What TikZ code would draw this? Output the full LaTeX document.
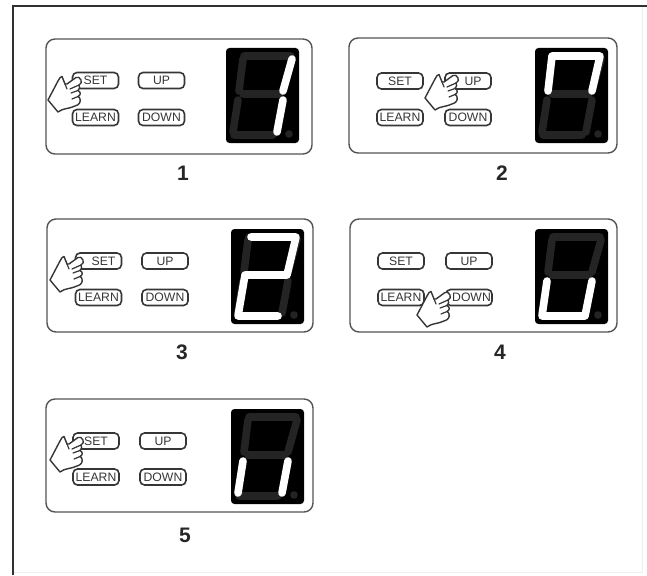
\documentclass[tikz,border=0pt]{standalone}
\usepackage{fontspec}
\setmainfont{Liberation Sans}
\definecolor{ink}{HTML}{363636}
\definecolor{offseg}{HTML}{242424}
\tikzset{
  frameline/.style={draw=ink!90!black,line width=2.8pt},
  paleline/.style={draw=black!7,line width=1pt},
  panelbox/.style={draw=ink!85,line width=1.4pt,rounded corners=9pt,fill=white},
  dispbox/.style={fill=black,rounded corners=3.5pt},
  btn/.style={draw=ink,line width=1.6pt,rounded corners=4.5pt,minimum width=46pt,minimum height=16pt,inner sep=0pt,fill=white,text=ink,font=\fontsize{12.2}{13}\selectfont},
  segoff/.style={draw=offseg,line width=7.6pt,line cap=round},
  segon/.style={draw=white,line width=7.6pt,line cap=round,line join=round},
  numlabel/.style={font=\fontsize{21}{23}\selectfont\bfseries,text=black!85,inner sep=0pt},
  handshape/.style={draw=ink,line width=1.4pt,fill=white,line join=round,line cap=round},
  handline/.style={draw=ink,line width=1.2pt,line cap=round}
}
\def\sega{(18,8)--(65,8)}
\def\segb{(66,11)--(57,43)}
\def\segc{(57,52)--(51,84)}
\def\segd{(47,87)--(8,87)}
\def\sege{(12,52)--(7,84)}
\def\segf{(17,11)--(13,43)}
\def\segg{(17,46)--(54,46)}
\newcommand\pressedtext[2]{\hspace*{#1}#2}
% #1 name, #2 left, #3 top, #4 lit segments (path)
\newcommand\showdigit[4]{%
  \path[dispbox] (#2,#3) rectangle ++(73,95);
  \begin{scope}[shift={(#2,#3)}]
    \draw[segoff] \sega \segb \segc \segd \sege \segf \segg;
    \fill[offseg] (63,86) circle (3.8);
    \draw[segon] #4;
  \end{scope}
}
% #1 name, #2 x col 1, #3 x col 2, #4 y row 1, #5 y row 2, #6 SET, #7 UP, #8 DOWN
\newcommand\showbuttons[8]{%
  \node[btn] (#1set) at (#2,#4) {#6};
  \node[btn] (#1up) at (#3,#4) {#7};
  \node[btn] (#1learn) at (#2,#5) {LEARN};
  \node[btn] (#1down) at (#3,#5) {#8};
}
% #1 tip x, #2 tip y
\newcommand\showhand[2]{%
  \begin{scope}[shift={(#1,#2)}]
    \draw[handshape] (0,0) .. controls (-1,-3) and (-3,-3) .. (-5,-2.5) -- (-14,4)
      -- (-16,4) -- (-19,-3.5) .. controls (-21,-3.5) and (-21,-2) .. (-23,1)
      -- (-33,20) -- (-23,32) .. controls (-18,28) and (-12,29) .. (-6,26)
      .. controls (-2,25) and (0,22) .. (-1,19) .. controls (-1,18) and (-2,17) .. (-3,16.5)
      .. controls (0,15) and (0,12) .. (-3,10.5) .. controls (-1,9) and (-1,7) .. (-2,5)
      .. controls (0,4) and (1,2) .. (0,0) -- cycle;
    \draw[handline] (-2,5) -- (-11,9);
    \draw[handline] (-3,10.5) -- (-10,13);
    \draw[handline] (-3,16.5) -- (-9,19);
    \draw[handline] (-16,4) -- (-14,9);
  \end{scope}
}
\begin{document}
\begin{tikzpicture}[x=1pt,y=-1pt]
  \useasboundingbox (0,0) rectangle (647,575);
  \fill[white] (0,0) rectangle (647,575);
  \draw[paleline] (13,572) -- (642,572) -- (642,6);
  \draw[frameline] (13,575) -- (13,6) -- (647,6);

  % panel 1
  \path[panelbox] (46,39) rectangle (312,154);
  \showbuttons{a}{95.5}{161.5}{80.5}{117.5}{SET}{UP}{DOWN}
  \showdigit{a}{226}{48}{\segb \segc}
  \showhand{81}{80}
  \node[numlabel] (numa) at (183,173) {1};

  % panel 2
  \path[panelbox] (349,38) rectangle (617,153);
  \showbuttons{b}{400}{468}{81}{117.5}{SET}{\pressedtext{10pt}{UP}}{DOWN}
  \showdigit{b}{535}{48}{(13,43)--(17,8)--(65,8)--(57,43)}
  \showhand{458}{78}
  \node[numlabel] (numb) at (502,173) {2};

  % panel 3
  \path[panelbox] (47,219) rectangle (313,332);
  \showbuttons{c}{98.5}{165}{261}{297.5}{\pressedtext{10pt}{SET}}{UP}{DOWN}
  \showdigit{c}{231}{229}{(20,8)--(65,8)--(56,46)--(14,46)--(7,87)--(47,87)}
  \showhand{83}{260}
  \node[numlabel] (numc) at (182,352) {3};

  % panel 4
  \path[panelbox] (350,219) rectangle (617,332);
  \showbuttons{d}{401}{469}{261}{297.5}{SET}{UP}{\pressedtext{5pt}{DOWN}}
  \showdigit{d}{535}{229}{(12,52)--(7,87)--(50,87)--(57,52)}
  \showhand{450}{295}
  \node[numlabel] (numd) at (500,352) {4};

  % panel 5
  \path[panelbox] (46,399) rectangle (313,512);
  \showbuttons{e}{96}{163}{441}{477}{SET}{UP}{DOWN}
  \showdigit{e}{231}{409}{\sege \segc}
  \showhand{83}{440}
  \node[numlabel] (nume) at (185,535) {5};
\end{tikzpicture}
\end{document}
